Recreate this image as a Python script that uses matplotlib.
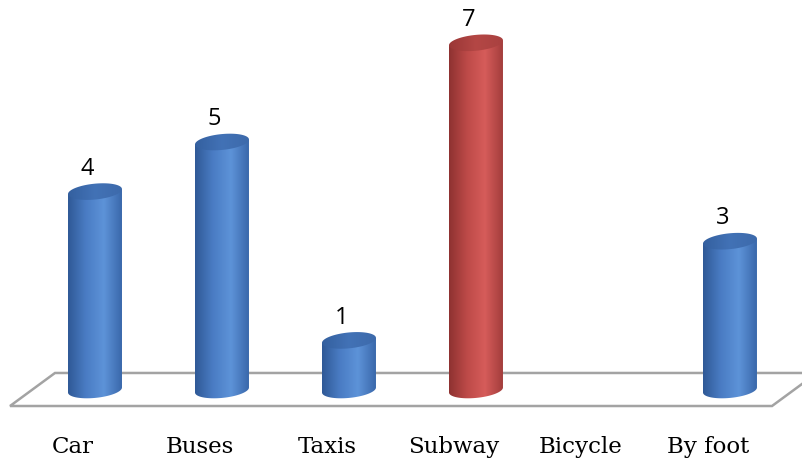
import numpy as np
import matplotlib.pyplot as plt
from matplotlib.path import Path
from matplotlib.patches import PathPatch, Polygon
from matplotlib.colors import LinearSegmentedColormap

categories = ['Car', 'Buses', 'Taxis', 'Subway', 'Bicycle', 'By foot']
values = [4, 5, 1, 7, 0, 3]
highlight = 'Subway'

# cylinder geometry in data units
hw = 0.2125      # half width of a cylinder
eh = 0.16        # half height of the end ellipses
tilt = 0.05      # slight lean of the ellipses

blue_cm = LinearSegmentedColormap.from_list('b', ['#2f5996', '#4a7cc4', '#5d93d8', '#3a68ab'])
red_cm = LinearSegmentedColormap.from_list('r', ['#8e3231', '#bd4a48', '#d65c5a', '#a33d3c'])
blue_top = LinearSegmentedColormap.from_list('bt', ['#34609f', '#4272b6', '#3d6aab'])
red_top = LinearSegmentedColormap.from_list('rt', ['#9a3736', '#b44745', '#a94140'])

fig = plt.figure(figsize=(8.03, 4.62), dpi=100)
ax = fig.add_axes([0, 0, 1, 1])
ax.set_xlim(-0.748, 5.575)
ax.set_ylim(-1.452, 7.863)
ax.axis('off')

# floor
floor = Polygon([(-0.669, -0.323), (5.331, -0.323), (5.685, 0.343), (-0.315, 0.343)],
                closed=True, facecolor='white', edgecolor='#a3a3a3', lw=1.8, zorder=1)
ax.add_patch(floor)


def ellipse_pts(cx, cy, t):
    return np.column_stack([cx + hw * np.cos(t), cy + eh * np.sin(t) + tilt * np.cos(t)])


grad = np.linspace(0, 1, 256).reshape(1, -1)
for i, (cat, v) in enumerate(zip(categories, values)):
    if v == 0:
        continue
    cm, top = (red_cm, red_top) if cat == highlight else (blue_cm, blue_top)
    # body: sides plus the lower half of the base ellipse
    t_bot = np.linspace(np.pi, 2 * np.pi, 60)
    bot = ellipse_pts(i, 0, t_bot)
    verts = np.vstack([[i - hw, v - tilt], bot, [i + hw, v + tilt], [i - hw, v - tilt]])
    patch = PathPatch(Path(verts, closed=True), facecolor='none', edgecolor='none', zorder=2)
    ax.add_patch(patch)
    im = ax.imshow(grad, cmap=cm, aspect='auto', extent=(i - hw, i + hw, -eh - tilt, v + tilt),
                   zorder=2, interpolation='bilinear')
    im.set_clip_path(patch)
    # top ellipse
    t_top = np.linspace(0, 2 * np.pi, 120)
    cap = Polygon(ellipse_pts(i, v, t_top), closed=True, facecolor='none', edgecolor='none', zorder=3)
    ax.add_patch(cap)
    im2 = ax.imshow(grad, cmap=top, aspect='auto',
                    extent=(i - hw, i + hw, v - eh - tilt, v + eh + tilt),
                    zorder=3, interpolation='bilinear')
    im2.set_clip_path(cap)
    ax.text(i - 0.06, v + 0.46, str(v), ha='center', va='center', fontsize=17,
            family=['Open Sans', 'DejaVu Sans'], zorder=4)

for i, cat in enumerate(categories):
    ax.text(i - 0.175, -1.14, cat, ha='center', va='center', fontsize=16.5,
            family=['DejaVu Serif'], color='black')

ax.set_xlim(-0.748, 5.575)
ax.set_ylim(-1.452, 7.863)
fig.savefig('out.png', dpi=100)
